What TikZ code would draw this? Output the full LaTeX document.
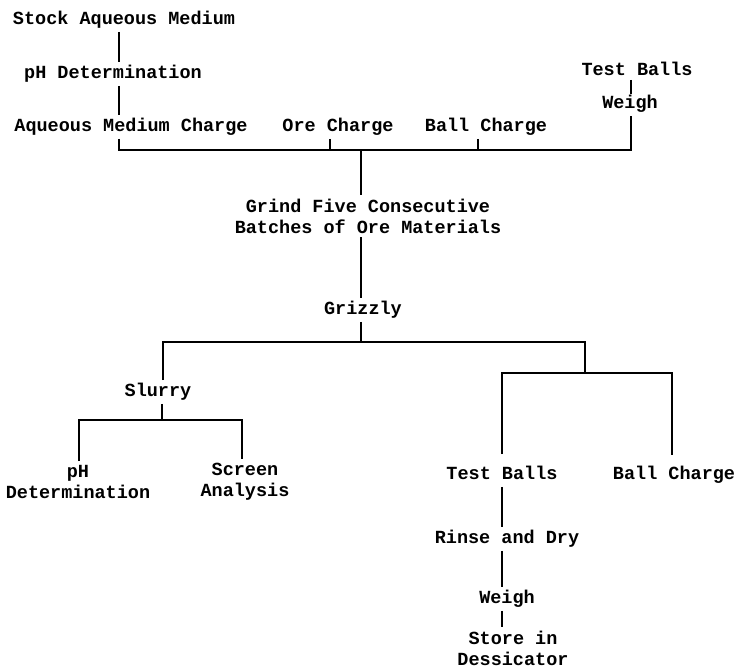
\documentclass[tikz,border=0pt]{standalone}
\usepackage{fontspec}
\setmonofont{Liberation Mono}
\usetikzlibrary{positioning}

\tikzset{
  lbltwo/.style={inner xsep=2pt, inner ysep=4pt, align=center,
                 font=\ttfamily\bfseries\fontsize{18.5}{21}\selectfont},
  lbl/.style={lbltwo, text height=12pt, text depth=3.5pt},
  flow/.style={line width=1.8pt}
}

\begin{document}
\begin{tikzpicture}[x=1pt, y=-1pt]
  \useasboundingbox (0,0) rectangle (738,670);

  % feed preparation
  \node (stock)    [lbl] at (124,20)  {Stock Aqueous Medium};
  \node (phtop)    [lbl] at (113,74)  {pH Determination};
  \node (amc)      [lbl] at (131,127) {Aqueous Medium Charge};
  \node (ore)      [lbl] at (338,127) {Ore Charge};
  \node (ballc)    [lbl] at (486,127) {Ball Charge};
  \node (tballs)   [lbl] at (637,71)  {Test Balls};
  \node (weightop) [lbl] at (630,104) {Weigh};

  % grinding
  \node (grind)    [lbltwo] at (368,216) {Grind Five Consecutive\\Batches of Ore Materials};
  \node (grizzly)  [lbl] at (363,310) {Grizzly};

  % slurry branch
  \node (slurry)   [lbl] at (158,392) {Slurry};
  \node (phbot)    [lbltwo] at (78,482)  {pH\\Determination};
  \node (screen)   [lbltwo] at (245,482) {Screen\\Analysis};

  % ball branch
  \node (tbb)      [lbl] at (502,475) {Test Balls};
  \node (bcb)      [lbl] at (674,475) {Ball Charge};
  \node (rinse)    [lbl] at (507,539) {Rinse and Dry};
  \node (weighb)   [lbl] at (507,599) {Weigh};
  \node (store)    [lbltwo] at (513,648) {Store in\\Dessicator};

  % junctions
  \coordinate (bar1l) at (119,150);
  \coordinate (bar1m) at (361,150);
  \coordinate (bar1o) at (330,150);
  \coordinate (bar1b) at (478,150);
  \coordinate (bar1r) at (631,150);
  \coordinate (bar2l) at (163,342);
  \coordinate (bar2r) at (585,342);
  \coordinate (bar3l) at (502,373);
  \coordinate (bar3m) at (585,373);
  \coordinate (bar3r) at (672,373);
  \coordinate (bar4l) at (79,420);
  \coordinate (bar4m) at (162,420);
  \coordinate (bar4r) at (242,420);

  \draw[flow] (stock.south -| bar1l) -- (phtop.north -| bar1l);
  \draw[flow] (phtop.south -| bar1l) -- (amc.north -| bar1l);
  \draw[flow] (amc.south -| bar1l) -- (bar1l) -- (bar1r) -- (weightop.south -| bar1r);
  \draw[flow] (ore.south -| bar1o) -- (bar1o);
  \draw[flow] (ballc.south -| bar1b) -- (bar1b);
  \draw[flow, shorten <=-3pt, shorten >=-2pt]
    (tballs.south -| bar1r) -- (weightop.north -| bar1r);
  \draw[flow] (bar1m) -- (grind.north -| bar1m);
  \draw[flow] (grind.south -| bar1m) -- (grizzly.north -| bar1m);

  \draw[flow] (grizzly.south -| bar1m) -- (bar1m |- bar2l);
  \draw[flow] (slurry.north -| bar2l) -- (bar2l) -- (bar2r) -- (bar3m);
  \draw[flow, shorten <=9pt, shorten >=8pt]
    (tbb.north -| bar3l) -- (bar3l) -- (bar3r) -- (bcb.north -| bar3r);

  \draw[flow] (slurry.south -| bar4m) -- (bar4m);
  \draw[flow] (phbot.north -| bar4l) -- (bar4l) -- (bar4r) -- (screen.north -| bar4r);

  \draw[flow] (tbb.south -| bar3l) -- (rinse.north -| bar3l);
  \draw[flow] (rinse.south -| bar3l) -- (weighb.north -| bar3l);
  \draw[flow] (weighb.south -| bar3l) -- (store.north -| bar3l);
\end{tikzpicture}
\end{document}
